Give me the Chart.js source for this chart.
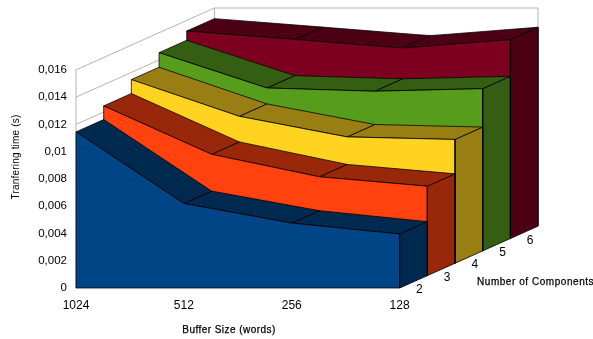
<!DOCTYPE html>
<html>
<head>
<meta charset="utf-8">
<style>
  html, body { margin: 0; padding: 0; background: #fff; }
  canvas { display: block; }
</style>
<script src="https://cdn.jsdelivr.net/npm/chart.js@4"></script>
</head>
<body>
<canvas id="chart" width="593" height="339"></canvas>
<script>
const bufferSizes = ['1024', '512', '256', '128'];
const components = ['2', '3', '4', '5', '6'];
const yTicks = [0, 0.002, 0.004, 0.006, 0.008, 0.01, 0.012, 0.014, 0.016];

const comp2 = [0.01145, 0.0062, 0.00476, 0.00396];
const comp3 = [0.01245, 0.0089, 0.00725, 0.00656];
const comp4 = [0.01347, 0.01078, 0.00927, 0.00908];
const comp5 = [0.01454, 0.01195, 0.01171, 0.0119];
const comp6 = [0.01522, 0.0146, 0.01397, 0.01459];
const seriesValues = [comp2, comp3, comp4, comp5, comp6];

const frontColors = ['#004586', '#ff420e', '#ffd320', '#579d1c', '#7e0021'];
const darkColors = ['#002950', '#992709', '#997f13', '#345e11', '#4c0014'];

// one step back in depth, in axis units
const depthX = 0.2566;
const depthY = 0.000908;
const yTop = 0.016 + components.length * depthY;
const xTop = bufferSizes.length - 1 + components.length * depthX;

function project(i, v, d) {
  return { x: i + d * depthX, y: v + d * depthY };
}

function face(points, fill) {
  return {
    data: points.map((p) => project(p[0], p[1], p[2])),
    showLine: true,
    fill: 'shape',
    backgroundColor: fill,
    borderColor: 'rgba(0,0,0,0.85)',
    borderWidth: 0.9,
    pointRadius: 0,
    tension: 0,
    clip: false
  };
}

function wall(points) {
  return {
    data: points.map((p) => project(p[0], p[1], p[2])),
    showLine: true,
    fill: false,
    borderColor: '#b3b3b3',
    borderWidth: 1,
    pointRadius: 0,
    tension: 0,
    clip: false
  };
}

const last = bufferSizes.length - 1;
const depth = components.length;
const datasets = [];

// walls first, then the series from back to front
yTicks.forEach((v) => datasets.push(wall([[0, v, 0], [0, v, depth], [last, v, depth]])));
datasets.push(wall([[0, 0, 0], [0, 0.016, 0]]));
datasets.push(wall([[0, 0, depth], [0, 0.016, depth]]));
datasets.push(wall([[last, 0, depth], [last, 0.016, depth]]));
datasets.push(wall([[last, 0, 0], [last, 0, depth]]));

for (let k = seriesValues.length - 1; k >= 0; k--) {
  const vals = seriesValues[k];
  datasets.push(face([[last, 0, k], [last, vals[last], k], [last, vals[last], k + 1], [last, 0, k + 1], [last, 0, k]], darkColors[k]));
  for (let i = last - 1; i >= 0; i--) {
    datasets.push(face([[i, vals[i], k], [i + 1, vals[i + 1], k], [i + 1, vals[i + 1], k + 1], [i, vals[i], k + 1], [i, vals[i], k]], darkColors[k]));
  }
  const outline = vals.map((v, i) => [i, v, k]);
  datasets.push(face([[0, 0, k], ...outline, [last, 0, k], [0, 0, k]], frontColors[k]));
}
// chart.js paints index 0 last
datasets.reverse();

function heavyText(ctx, text, x, y) {
  ctx.fillText(text, x, y);
  ctx.strokeText(text, x, y);
}

const labelsPlugin = {
  id: 'labels3d',
  afterDraw(chart) {
    const { ctx, scales } = chart;
    ctx.save();
    ctx.fillStyle = '#000';
    ctx.strokeStyle = '#000';
    ctx.lineWidth = 0.25;
    ctx.textBaseline = 'middle';

    ctx.textAlign = 'center';
    ctx.font = '12px "Liberation Sans"';
    components.forEach((c, k) => {
      const p = project(last, 0, k + 0.5);
      ctx.fillText(c, scales.x.getPixelForValue(p.x) + 6, scales.y.getPixelForValue(p.y) + 8);
    });

    ctx.font = '10px "Liberation Sans"';
    ctx.letterSpacing = '0.45px';
    heavyText(ctx, 'Buffer Size (words)', 229, 330);
    ctx.textAlign = 'left';
    ctx.letterSpacing = '0.55px';
    heavyText(ctx, 'Number of Components', 477, 282);

    ctx.letterSpacing = '0.2px';
    ctx.textAlign = 'center';
    ctx.translate(16, 157);
    ctx.rotate(-Math.PI / 2);
    ctx.fillText('Tranfering time (s)', 0, 0);
    ctx.restore();
  }
};

new Chart(document.getElementById('chart'), {
  type: 'scatter',
  data: { datasets },
  plugins: [labelsPlugin],
  options: {
    responsive: false,
    animation: false,
    layout: { padding: { top: 8, right: 55, left: 0, bottom: 0 } },
    plugins: { legend: { display: false }, tooltip: { enabled: false } },
    scales: {
      x: {
        type: 'linear',
        min: 0,
        max: xTop,
        grid: { display: false, drawTicks: false },
        border: { display: false },
        afterFit(s) { s.height = 51; s.paddingLeft = 0; s.paddingRight = 0; },
        afterBuildTicks(s) { s.ticks = bufferSizes.map((b, i) => ({ value: i })); },
        ticks: {
          autoSkip: false,
          maxRotation: 0,
          minRotation: 0,
          padding: 10,
          color: '#000',
          font: { family: 'Liberation Sans', size: 12 },
          callback: (v) => bufferSizes[v]
        }
      },
      y: {
        type: 'linear',
        min: 0,
        max: yTop,
        grid: { display: false, drawTicks: false },
        border: { display: false },
        afterFit(s) { s.width = 76; s.paddingTop = 0; s.paddingBottom = 0; },
        afterBuildTicks(s) { s.ticks = yTicks.map((v) => ({ value: v })); },
        ticks: {
          autoSkip: false,
          padding: 9,
          color: '#000',
          font: { family: 'Liberation Sans', size: 11.5 },
          callback: (v) => String(+v.toFixed(3)).replace('.', ',')
        }
      }
    }
  }
});
</script>
</body>
</html>
